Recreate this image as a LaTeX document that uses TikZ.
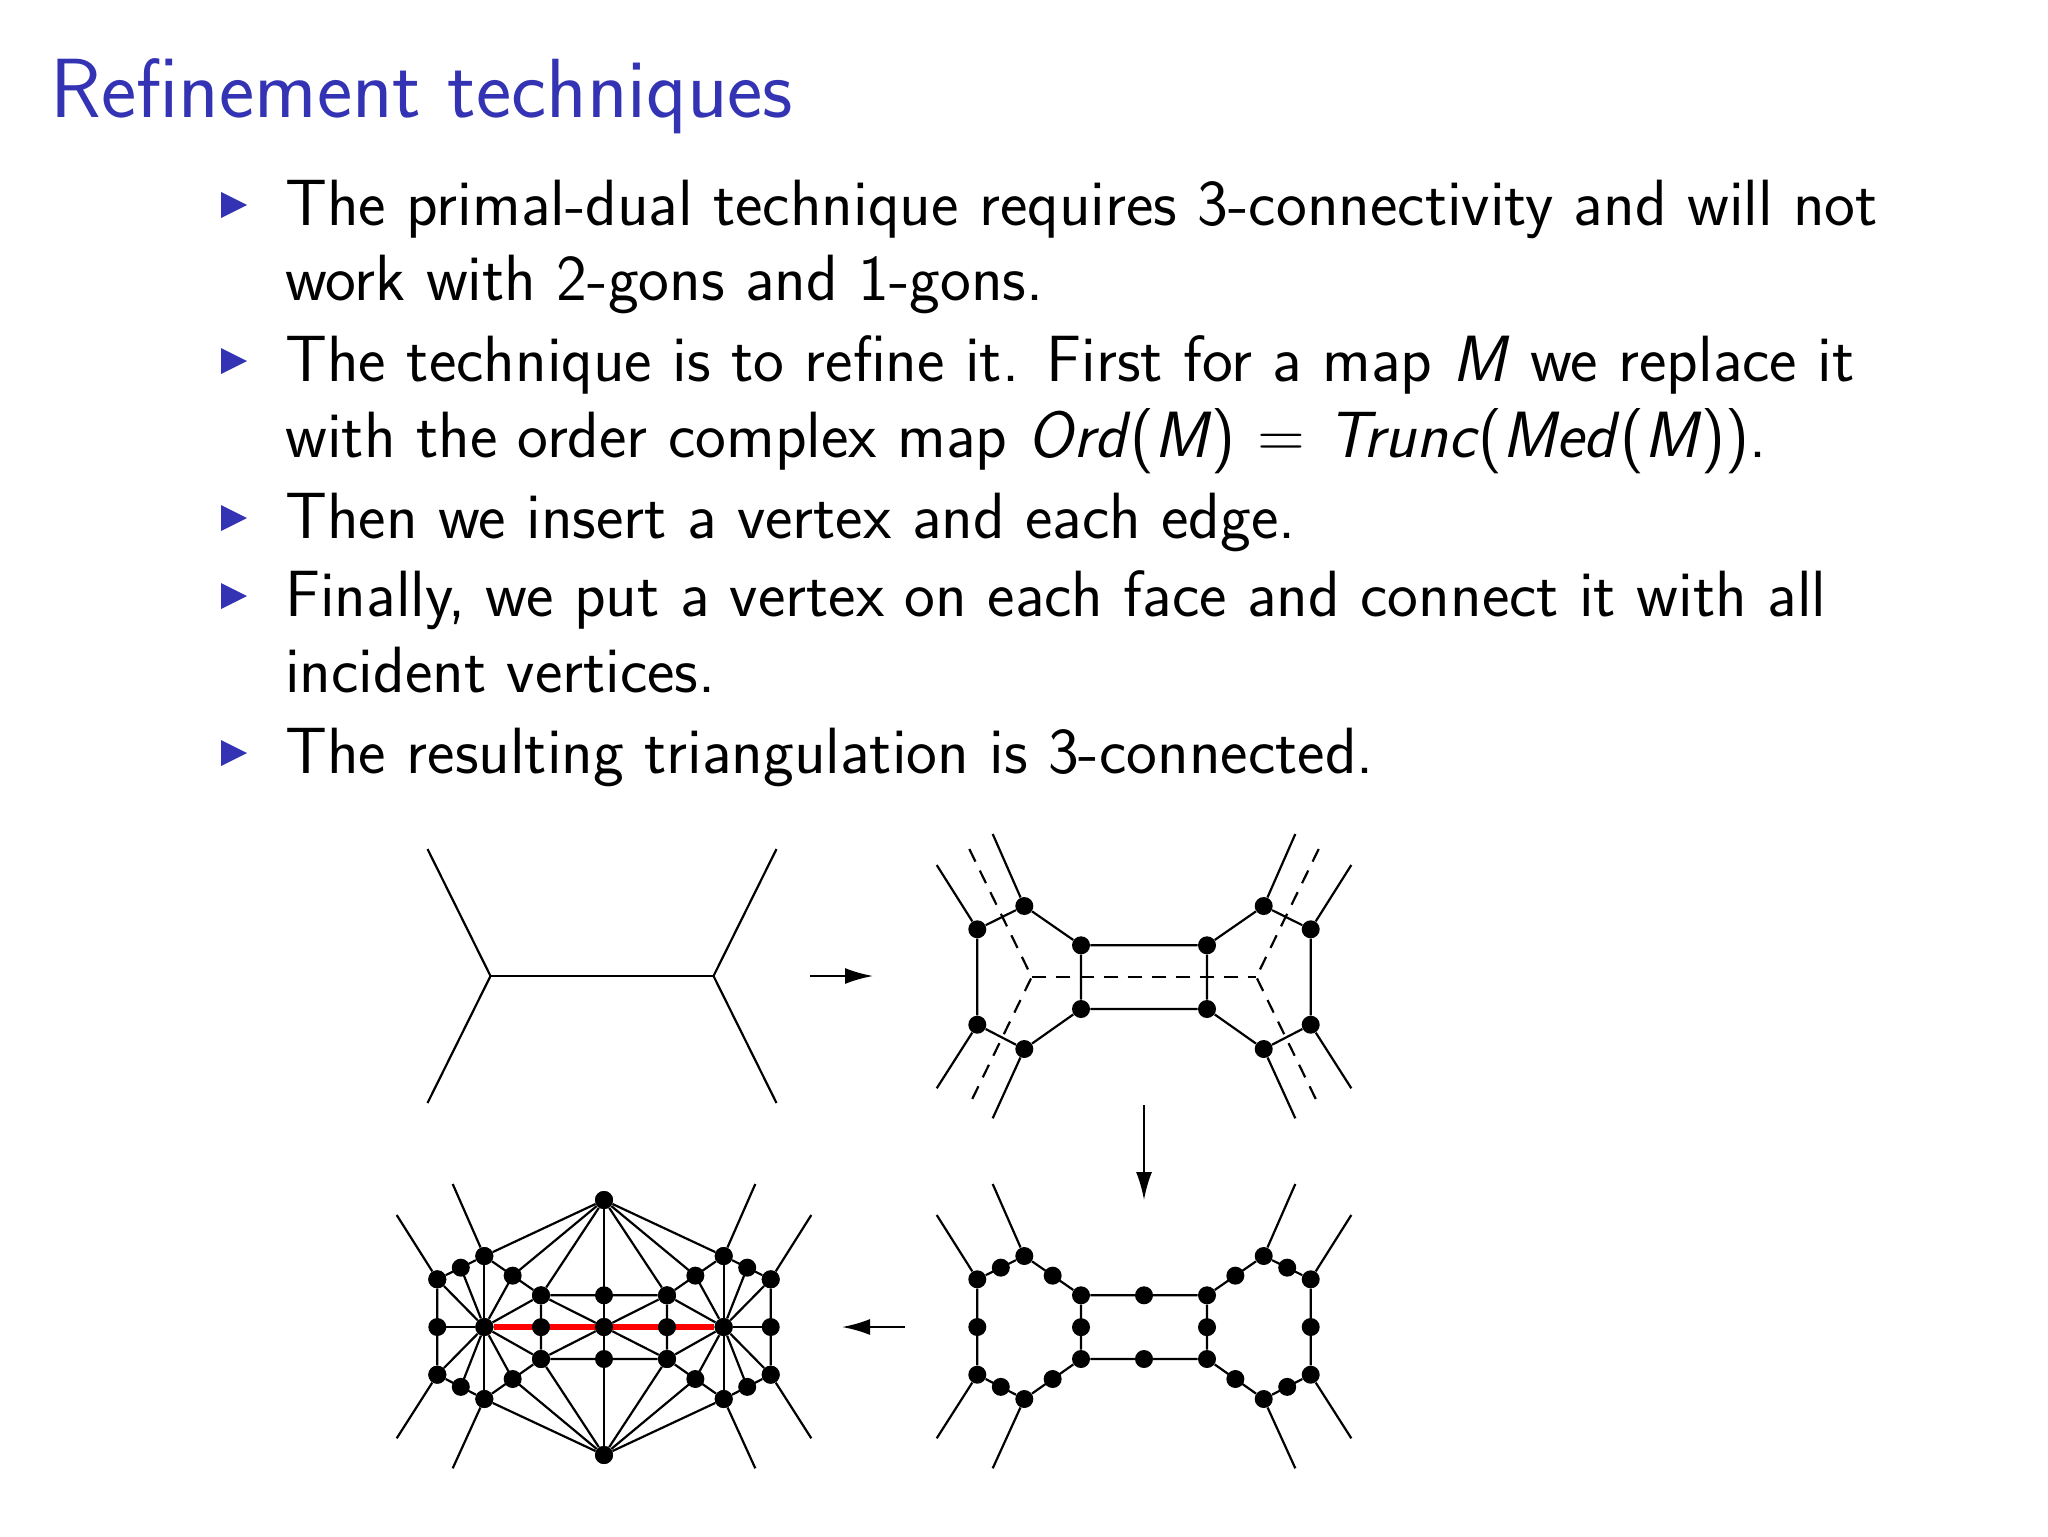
\documentclass[tikz,border=0pt]{standalone}
\usetikzlibrary{arrows.meta,calc}
\definecolor{bblue}{RGB}{51,51,179}
\tikzset{
 dot/.style={circle,fill=black,inner sep=0pt,minimum size=18*0.5pt},
 ln/.style={line width=1.1pt},
 dsh/.style={line width=1.1pt,dash pattern=on 7pt off 5pt},
 arr/.style={line width=1.1pt,-{Latex[length=14pt,width=8pt]}},
 txt/.style={anchor=base west,inner sep=0pt,font=\sffamily\fontsize{32.7}{38}\selectfont},
 bul/.style={fill=bblue}
}
\newcommand\bulletat[1]{\fill[bul] (221,#1-33) -- (247,#1-20) -- (221,#1-7) -- cycle;}
\newcommand\hexbase{%
 \foreach \n/\x/\y in {A/-166.7/-47.7,B/-119.7/-71,C/-63/-31.7,D/63/-31.7,E/119.7/-71,F/166.7/-47.7,G/-166.7/47.7,H/-119.7/72,I/-63/32,J/63/32,K/119.7/72,L/166.7/47.7}
   \node[dot] (\n) at (\x,\y) {};
 \foreach \n/\x/\y in {a/-207.3/-112,b/-151.3/-143,g/-207.3/111.3,h/-151.3/141.3,f/207.3/-112,e/151.3/-143,l/207.3/111.3,k/151.3/141.3}
   \coordinate (\n) at (\x,\y);
 \draw[ln] (A)--(a) (B)--(b) (G)--(g) (H)--(h) (F)--(f) (E)--(e) (L)--(l) (K)--(k);}
\begin{document}
\begin{tikzpicture}[x=0.5pt,y=-0.5pt]
\useasboundingbox (0,0) rectangle (2048,1536);
\node[txt,anchor=base west,font=\sffamily\fontsize{42}{48}\selectfont,text=bblue] (title) at (50,118) {Refinement techniques};
\bulletat{225}\bulletat{381}\bulletat{538}\bulletat{616}\bulletat{773}
\node[txt] (t1) at (285,225) {The primal-dual technique requires 3-connectivity and will not};
\node[txt] (t2) at (285,300) {work with 2-gons and 1-gons.};
\node[txt] (t3) at (285,381) {The technique is to refine it. First for a map \textit{M} we replace it};
\node[txt] (t4) at (285,457) {with the order complex map \textit{Ord}(\textit{M})\,\,=\,\,\textit{Trunc}(\textit{Med}(\textit{M})).};
\node[txt] (t5) at (285,538) {Then we insert a vertex and each edge.};
\node[txt] (t6) at (285,616) {Finally, we put a vertex on each face and connect it with all};
\node[txt] (t7) at (285,692) {incident vertices.};
\node[txt] (t8) at (285,773) {The resulting triangulation is 3-connected.};
% top-left
\begin{scope}[shift={(602,976)},name prefix=tl-]
 \coordinate (u) at (-111.5,0); \coordinate (v) at (111.5,0);
 \draw[ln] (-174.5,-127) coordinate (p1) -- (u) -- (-174.5,127) coordinate (p2);
 \draw[ln] (u)--(v);
 \draw[ln] (174.5,-127) coordinate (p3) -- (v) -- (174.5,127) coordinate (p4);
\end{scope}
% top-right
\begin{scope}[shift={(1144,977)},name prefix=tr-]
 \coordinate (u) at (-112.3,0); \coordinate (v) at (112.3,0);
 \draw[dsh] (-174.7,-128) -- (u) -- (-174.7,128);
 \draw[dsh] (u)--(v);
 \draw[dsh] (174.7,-128) -- (v) -- (174.7,128);
 \hexbase
 \draw[ln] (A)--(B)--(C)--(D)--(E)--(F)--(L)--(K)--(J)--(I)--(H)--(G)--(A) (C)--(I) (D)--(J);
\end{scope}
% bottom-right
\begin{scope}[shift={(1144,1327)},name prefix=br-]
 \hexbase
 \draw[ln] (A)--(B)--(C)--(D)--(E)--(F)--(L)--(K)--(J)--(I)--(H)--(G)--(A) (C)--(I) (D)--(J);
 \foreach \p/\q in {A/B,B/C,C/D,D/E,E/F,F/L,L/K,K/J,J/I,I/H,H/G,G/A,C/I,D/J}
   \node[dot] at ($(\p)!0.5!(\q)$) {};
\end{scope}
% bottom-left
\begin{scope}[shift={(604,1327)},name prefix=bl-]
 \hexbase
 \foreach \p/\q in {A/B,B/C,C/D,D/E,E/F,F/L,L/K,K/J,J/I,I/H,H/G,G/A,C/I,D/J}
   \coordinate (\p\q) at ($(\p)!0.5!(\q)$);
 \node[dot] (P) at (-119.7,0) {};
 \node[dot] (R) at (119.7,0) {};
 \node[dot] (Q) at (0,0) {};
 \node[dot] (T) at (0,-127) {};
 \node[dot] (S) at (0,128) {};
 \draw[ln] (A)--(B)--(C)--(D)--(E)--(F)--(L)--(K)--(J)--(I)--(H)--(G)--(A) (C)--(I) (D)--(J);
 \foreach \v in {A,AB,B,BC,C,CI,I,IH,H,HG,G,GA} \draw[ln] (P)--(\v);
 \foreach \v in {F,EF,E,DE,D,DJ,J,KJ,K,LK,L,FL} \draw[ln] (R)--(\v);
 \foreach \v in {C,CD,D,I,JI,J} \draw[ln] (Q)--(\v);
 \foreach \v in {B,BC,C,CD,D,DE,E} \draw[ln] (T)--(\v);
 \foreach \v in {H,IH,I,JI,J,KJ,K} \draw[ln] (S)--(\v);
 \draw[red,line width=2.6pt] (P)--(R);
 \foreach \v in {AB,BC,CD,DE,EF,FL,LK,KJ,JI,IH,HG,GA,CI,DJ} \node[dot] at (\v) {};
 \node[dot] at (P) {}; \node[dot] at (Q) {}; \node[dot] at (R) {};
 \node[dot] at (T) {}; \node[dot] at (S) {};
 \foreach \v in {A,B,C,D,E,F,G,H,I,J,K,L} \node[dot] at (\v) {};
\end{scope}
\coordinate (a1s) at (810,976); \coordinate (a1e) at (873,976);
\draw[arr] (a1s)--(a1e);
\coordinate (a2s) at (1144,1105); \coordinate (a2e) at (1144,1200);
\draw[arr] (a2s)--(a2e);
\coordinate (a3s) at (905,1327); \coordinate (a3e) at (842,1327);
\draw[arr] (a3s)--(a3e);
\end{tikzpicture}
\end{document}
